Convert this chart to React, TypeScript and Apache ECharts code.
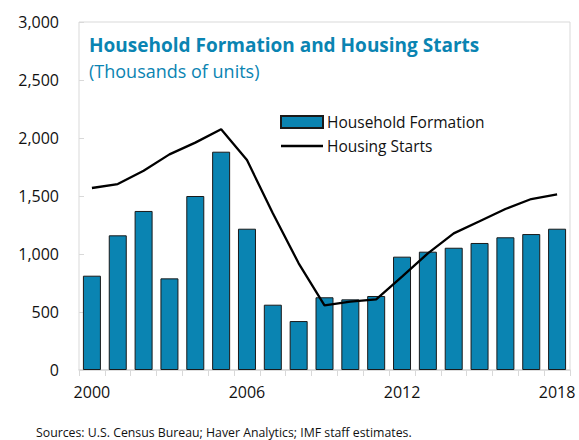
import React, { useEffect, useRef } from "react";
import * as echarts from "echarts";

const years = ["2000","2001","2002","2003","2004","2005","2006","2007","2008","2009","2010","2011","2012","2013","2014","2015","2016","2017","2018"];
const householdFormation = [813, 1161, 1371, 790, 1500, 1882, 1218, 563, 422, 627, 609, 638, 977, 1020, 1054, 1095, 1144, 1172, 1218];
const housingStarts = [1569, 1603, 1718, 1859, 1960, 2075, 1810, 1351, 920, 557, 589, 609, 805, 1006, 1178, 1282, 1388, 1474, 1514];
const yTicks = [0, 500, 1000, 1500, 2000, 2500, 3000];

const FONT = "'Open Sans', 'Noto Sans', sans-serif";
const BLUE = "#0a84b2";

export default function App() {
  const ref = useRef<HTMLDivElement>(null);
  useEffect(() => {
    if (!ref.current) return;
    const chart = echarts.init(ref.current, null, { renderer: "svg" });
    chart.setOption({
      animation: false,
      backgroundColor: "#ffffff",
      textStyle: { fontFamily: FONT },
      title: [
        {
          text: "Household Formation and Housing Starts",
          left: 89, top: 35, padding: 0,
          textStyle: { fontFamily: FONT, fontSize: 19, fontWeight: "bold", color: BLUE },
        },
        {
          text: "(Thousands of units)",
          left: 89, top: 62, padding: 0,
          textStyle: { fontFamily: FONT, fontSize: 18, fontWeight: "normal", color: BLUE },
        },
        {
          text: "Sources: U.S. Census Bureau; Haver Analytics; IMF staff estimates.",
          left: 36, top: 425, padding: 0,
          textStyle: { fontFamily: FONT, fontSize: 12.3, lineHeight: 14, fontWeight: "normal", color: "#111" },
        },
      ],
      legend: {
        left: 280, top: 114, orient: "vertical", itemGap: 8, padding: 0,
        itemWidth: 42, itemHeight: 12, symbolKeepAspect: true,
        textStyle: { fontFamily: FONT, fontSize: 15.5, color: "#111", padding: [0, 0, 0, -1] },
        data: [
          { name: "Household Formation", icon: "rect" },
          { name: "Housing Starts", icon: "path://M0,0 L42,0 L42,2.5 L0,2.5 Z" },
        ],
      },
      grid: {
        left: 79, right: 9, top: 22, bottom: 70,
        show: true, borderColor: "#d9d9d9", borderWidth: 1,
      },
      xAxis: {
        type: "category",
        data: years,
        boundaryGap: true,
        axisLine: { show: true, lineStyle: { color: "#d9d9d9", width: 1.5 } },
        axisTick: { show: true, interval: 0, length: 6, lineStyle: { color: "#d9d9d9" } },
        axisLabel: { interval: 5, fontSize: 16, color: "#111", margin: 14, fontFamily: FONT },
      },
      yAxis: {
        type: "value",
        min: 0, max: 3000, interval: 500,
        axisLine: { show: false },
        axisTick: { show: true, inside: true, length: 5, lineStyle: { color: "#d9d9d9" } },
        splitLine: { show: false },
        axisLabel: {
          fontSize: 16, color: "#111", margin: 20, fontFamily: FONT,
          formatter: (v: number) => (yTicks.includes(v) ? v.toLocaleString("en-US") : ""),
        },
      },
      series: [
        {
          name: "Household Formation",
          type: "bar",
          data: householdFormation,
          barWidth: 18,
          itemStyle: { color: BLUE, borderColor: "#1a1a1a", borderWidth: 1 },
        },
        {
          name: "Housing Starts",
          type: "line",
          data: housingStarts,
          symbol: "none",
          lineStyle: { color: "#000", width: 2.3 },
          itemStyle: { color: "#000" },
        },
      ],
    });
    return () => chart.dispose();
  }, []);
  return <div ref={ref} style={{ width: 579, height: 440, position: "absolute", left: 0, top: 0 }} />;
}
